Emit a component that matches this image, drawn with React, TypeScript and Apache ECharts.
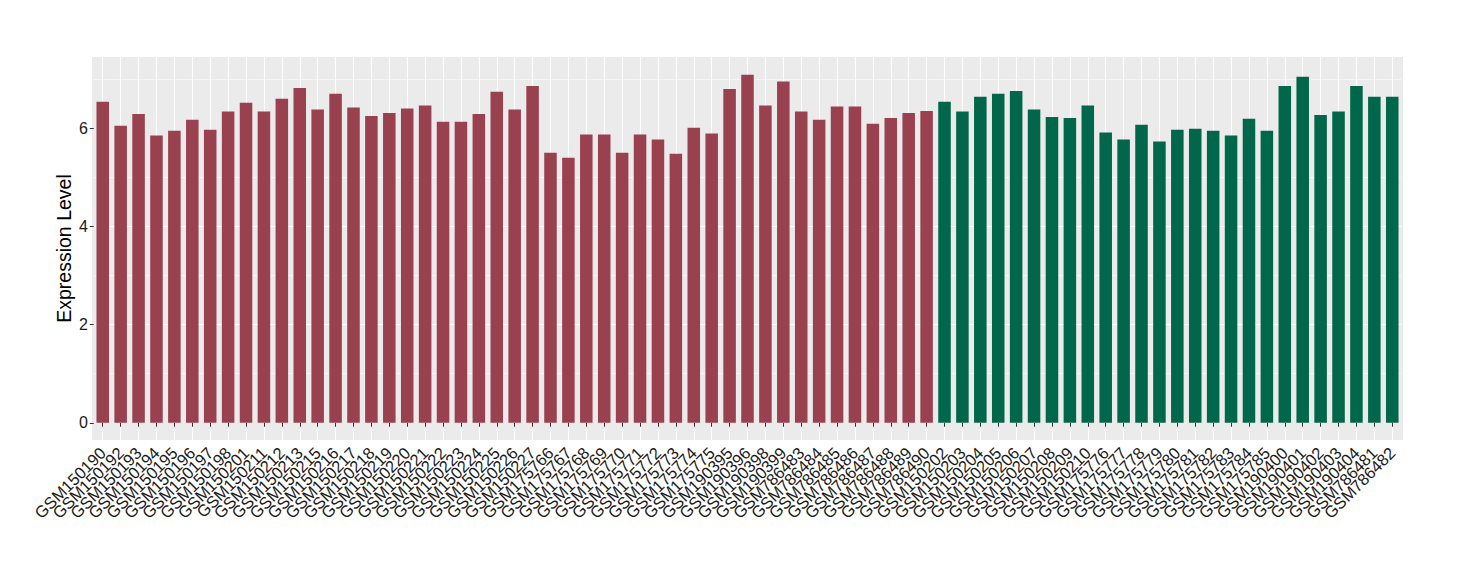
import React, { useEffect, useRef } from "react";
import * as echarts from "echarts";

const groupANames = [
  "GSM150190", "GSM150192", "GSM150193", "GSM150194", "GSM150195", "GSM150196", "GSM150197", "GSM150198",
  "GSM150201", "GSM150211", "GSM150212", "GSM150213", "GSM150215", "GSM150216", "GSM150217", "GSM150218",
  "GSM150219", "GSM150220", "GSM150221", "GSM150222", "GSM150223", "GSM150224", "GSM150225", "GSM150226",
  "GSM150227", "GSM175766", "GSM175767", "GSM175768", "GSM175769", "GSM175770", "GSM175771", "GSM175772",
  "GSM175773", "GSM175774", "GSM175775", "GSM190395", "GSM190396", "GSM190398", "GSM190399", "GSM786483",
  "GSM786484", "GSM786485", "GSM786486", "GSM786487", "GSM786488", "GSM786489", "GSM786490",
];
const groupAValues = [
  6.54, 6.05, 6.29, 5.85, 5.95, 6.17, 5.97, 6.34,
  6.52, 6.34, 6.6, 6.82, 6.38, 6.7, 6.42, 6.25,
  6.31, 6.4, 6.46, 6.13, 6.13, 6.29, 6.74, 6.38,
  6.86, 5.5, 5.4, 5.87, 5.87, 5.5, 5.87, 5.77,
  5.48, 6.01, 5.89, 6.8, 7.09, 6.46, 6.95, 6.34,
  6.17, 6.44, 6.44, 6.09, 6.21, 6.31, 6.35,
];
const groupBNames = [
  "GSM150202", "GSM150203", "GSM150204", "GSM150205", "GSM150206", "GSM150207", "GSM150208", "GSM150209",
  "GSM150210", "GSM175776", "GSM175777", "GSM175778", "GSM175779", "GSM175780", "GSM175781", "GSM175782",
  "GSM175783", "GSM175784", "GSM175785", "GSM190400", "GSM190401", "GSM190402", "GSM190403", "GSM190404",
  "GSM786481", "GSM786482",
];
const groupBValues = [
  6.54, 6.34, 6.64, 6.7, 6.76, 6.38, 6.23, 6.21,
  6.46, 5.91, 5.77, 6.07, 5.73, 5.97, 5.99, 5.95,
  5.85, 6.19, 5.95, 6.86, 7.05, 6.27, 6.34, 6.86,
  6.64, 6.64,
];
const yTickValues = [0, 2, 4, 6];

const COLOR_A = "#9A4150";
const COLOR_B = "#00674A";
const FONT = "'Liberation Sans', Arial, Helvetica, sans-serif";

export default function App() {
  const ref = useRef<HTMLDivElement>(null);

  useEffect(() => {
    if (!ref.current) return;
    const chart = echarts.init(ref.current, undefined, { renderer: "svg" });
    const categories = [...groupANames, ...groupBNames];
    const data = [
      ...groupAValues.map((v) => ({ value: v, itemStyle: { color: COLOR_A } })),
      ...groupBValues.map((v) => ({ value: v, itemStyle: { color: COLOR_B } })),
    ];
    const panelLeft = 92;
    const panelRight = 1403;
    const panelTop = 57;
    const panelBottom = 440;
    const n = categories.length;
    // ggplot expands discrete axes by 0.6 units; echarts uses 0.5
    const step = (panelRight - panelLeft) / (n + 0.2);
    const gridLeft = panelLeft + 0.1 * step;
    const gridRight = 1460 - (panelRight - 0.1 * step);

    chart.setOption({
      animation: false,
      textStyle: { fontFamily: FONT },
      graphic: [
        {
          type: "rect",
          z: -10,
          silent: true,
          shape: { x: panelLeft, y: panelTop, width: panelRight - panelLeft, height: panelBottom - panelTop },
          style: { fill: "#EBEBEB" },
        },
      ],
      grid: {
        left: gridLeft,
        right: gridRight,
        top: panelTop,
        bottom: 580 - panelBottom,
      },
      xAxis: {
        type: "category",
        data: categories,
        boundaryGap: true,
        axisLine: { show: false },
        axisTick: { show: true, alignWithLabel: true, length: 4, lineStyle: { color: "#333333", width: 1 } },
        axisLabel: {
          interval: 0,
          rotate: 45,
          fontSize: 16.5,
          color: "#1a1a1a",
          margin: 10,
          fontFamily: FONT,
        },
        splitLine: { show: true, alignWithLabel: true, lineStyle: { color: "#FFFFFF", width: 1.1 } },
      },
      yAxis: {
        type: "value",
        min: -0.35,
        max: 7.45,
        splitNumber: 4,
        name: "Expression Level",
        nameLocation: "middle",
        nameGap: 30,
        nameMoveOverlap: false,
        nameTextStyle: { fontSize: 19.5, color: "#000000", fontFamily: FONT, verticalAlign: "middle" },
        axisLine: { show: false },
        axisTick: { show: true, length: 4, customValues: yTickValues, lineStyle: { color: "#333333" } },
        axisLabel: {
          customValues: yTickValues,
          fontSize: 16,
          color: "#1a1a1a",
          margin: 6,
          fontFamily: FONT,
        },
        splitLine: { show: true, showMinLine: false, showMaxLine: false, lineStyle: { color: "#FFFFFF", width: 1.1 } },
        minorTick: { show: false, splitNumber: 2 },
        minorSplitLine: { show: true, lineStyle: { color: "#FFFFFF", width: 0.55 } },
      },
      series: [
        {
          type: "bar",
          data,
          barWidth: "70%",
          z: 2,
        },
      ],
    });
    return () => chart.dispose();
  }, []);

  return (
    <div
      ref={ref}
      style={{ position: "fixed", left: 0, top: 0, width: 1460, height: 580, background: "#FFFFFF" }}
    />
  );
}
